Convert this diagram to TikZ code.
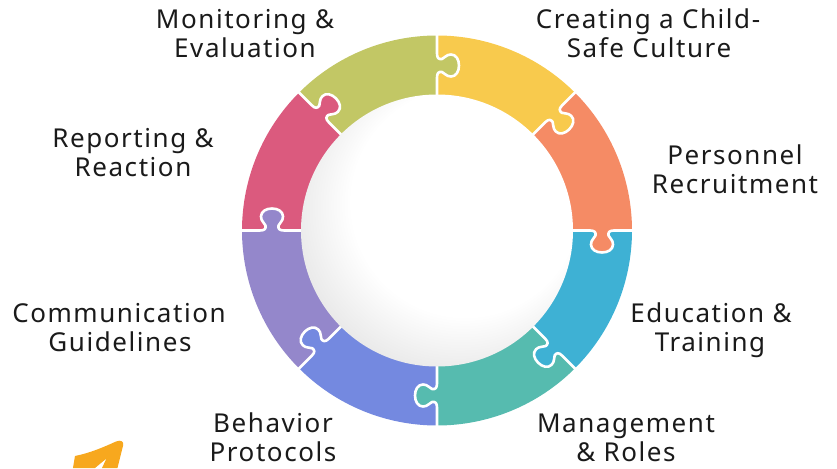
\documentclass[tikz,border=0pt]{standalone}
\usepackage{fontspec}
\setmainfont{Noto Sans}[LetterSpace=6]
\definecolor{cY}{HTML}{F8CA4D}
\definecolor{cO}{HTML}{F58B65}
\definecolor{cB}{HTML}{3EB1D4}
\definecolor{cT}{HTML}{56BBAF}
\definecolor{cV}{HTML}{7489E0}
\definecolor{cP}{HTML}{9487CB}
\definecolor{cR}{HTML}{DB5A7E}
\definecolor{cG}{HTML}{C2C765}
\definecolor{cArrow}{HTML}{F7A81E}
\definecolor{txt}{HTML}{1A1A1A}
\pgfdeclareradialshading{discshade}{\pgfpoint{9bp}{9bp}}{color(0bp)=(white); color(21bp)=(white); color(36bp)=(black!14); color(50bp)=(black!14)}
\tikzset{
  knobshape/.style={insert path={-- (153,0) .. controls (158,0) and (159,-2) .. (158.5,-5) .. controls (157.5,-8) and (154,-9) .. (154,-14) .. controls (154,-19) and (159,-22) .. (165,-22) .. controls (171,-22) and (176,-19) .. (176,-14) .. controls (176,-9) and (172.5,-8) .. (171.5,-5) .. controls (171,-2) and (172,0) .. (177,0)}},
  seam/.style={white, line width=2.6pt, line join=round},
  lbl/.style={text=txt, font=\fontsize{26}{29}\selectfont, anchor=base, inner sep=0pt}
}
\begin{document}
\begin{tikzpicture}[x=1pt,y=1pt]
\begin{scope}[shift={(-437,230.5)},yscale=-1]
\path[use as bounding box] (0,0) rectangle (837,468);
\end{scope}
% ring segments
\foreach \c [count=\k from 0] in {cY,cO,cB,cT,cV,cP,cR,cG} {
  \pgfmathsetmacro\aA{90-45*\k}
  \pgfmathsetmacro\aB{\aA-45}
  \fill[\c] (\aA:195) arc[start angle=\aA, end angle=\aB, radius=195] -- (\aB:128) arc[start angle=\aB, end angle=\aA, radius=128] -- cycle;
}
% knobs
\foreach \c [count=\k from 0] in {cY,cO,cB,cT,cV,cP,cR,cG} {
  \pgfmathsetmacro\aB{45-45*\k}
  \fill[\c, rotate=\aB] (153,3) [knobshape] -- (177,3) -- cycle;
}
% seams
\foreach \k in {0,...,7} {
  \pgfmathsetmacro\aB{45-45*\k}
  \draw[seam, rotate=\aB] (120,0) [knobshape] -- (200,0);
}
% centre disc
\shade[shading=discshade] (0,0) circle[radius=136];
\begin{scope}[shift={(-437,230.5)},yscale=-1]
\fill[cArrow] (73,468) -- (75,456) .. controls (90,453) and (104,447) .. (116,441.5) .. controls (121,439.5) and (124.5,441.5) .. (123,446) -- (117.5,468) -- (102,468) -- (106.5,458.5) -- (95,468) -- cycle;
\node[lbl] (t1a) at (245,29) {Monitoring \&};
\node[lbl] (t1b) at (245,58) {Evaluation};
\node[lbl] (t2a) at (648,29) {Creating a Child-};
\node[lbl] (t2b) at (649,58) {Safe Culture};
\node[lbl] (t3a) at (735,165) {Personnel};
\node[lbl] (t3b) at (735,194) {Recruitment};
\node[lbl] (t4a) at (711,322) {Education \&};
\node[lbl] (t4b) at (710,351) {Training};
\node[lbl] (t5a) at (626,432) {Management};
\node[lbl] (t5b) at (626,461) {\& Roles};
\node[lbl] (t6a) at (273,432) {Behavior};
\node[lbl] (t6b) at (273,461) {Protocols};
\node[lbl] (t7a) at (119,322) {Communication};
\node[lbl] (t7b) at (120,351) {Guidelines};
\node[lbl] (t8a) at (133,148) {Reporting \&};
\node[lbl] (t8b) at (133,177) {Reaction};
\end{scope}
\end{tikzpicture}
\end{document}
